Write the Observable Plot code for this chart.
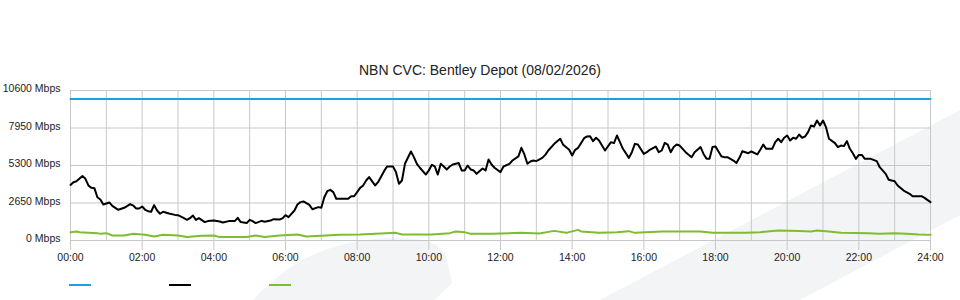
<!DOCTYPE html>
<html><head><meta charset="utf-8">
<script src="https://cdn.jsdelivr.net/npm/d3@7"></script>
<script src="https://cdn.jsdelivr.net/npm/@observablehq/plot@0.6"></script>
<style>
html,body{margin:0;padding:0;background:#fff;}
#wrap{position:relative;width:960px;height:300px;overflow:hidden;font-family:"Liberation Sans",Arial,sans-serif;}
#bg{position:absolute;left:0;top:0;z-index:0;}
#content{position:relative;z-index:1;}
#title{height:80px;box-sizing:border-box;padding-top:63px;font-size:14px;line-height:1;text-align:center;color:#222;}
#legend{position:relative;height:20px;}
.sw{position:absolute;top:4px;width:22px;height:2px;}
</style></head>
<body><div id="wrap">
<svg id="bg" width="960" height="300"><path d="M600,300 L960,110 L960,215 L800,300 Z" fill="#f3f4f6"/><path d="M253,300 C285,265 325,240 390,238 C425,237 440,243 446,256 L452,283 L435,300 Z" fill="#f3f4f6"/></svg>
<div id="content"><div id="title"></div><div id="chart"></div><div id="legend"></div></div>
</div>
<script>
const titleText = "NBN CVC: Bentley Depot (08/02/2026)";
const seriesNames = ["Capacity", "Total", "Upload"];
const seriesColors = ["#1aa1e1", "#000000", "#7dbd2e"];

const yTicks = [0, 2650, 5300, 7950, 10600];
const xTicks = [0, 120, 240, 360, 480, 600, 720, 840, 960, 1080, 1200, 1320, 1440];
const xTickLabels = ["00:00","02:00","04:00","06:00","08:00","10:00","12:00","14:00","16:00","18:00","20:00","22:00","24:00"];
const hourGrid = [0,60,120,180,240,300,360,420,480,540,600,660,720,780,840,900,960,1020,1080,1140,1200,1260,1320,1380,1440];

// Capacity (Mbps)
const capTimes = [0, 1440];
const capMbps = [10000, 10000];

// Total traffic: minutes since midnight, Mbps
const totalTimes = [0,5,10,20,25,30,35,40,45,50,55,65,70,80,90,100,105,110,115,120,125,130,135,140,145,150,155,165,175,180,190,195,200,205,210,215,225,230,240,250,255,265,275,280,285,290,295,300,305,310,320,325,335,340,350,355,360,365,375,380,385,390,395,400,405,415,420,425,430,435,440,445,450,465,470,475,485,490,495,500,510,515,525,530,540,545,550,555,560,570,575,580,585,595,600,605,610,615,620,625,630,635,640,650,655,660,665,670,675,680,690,695,700,705,710,720,725,735,740,750,755,760,765,770,775,780,790,795,800,810,820,825,835,840,845,850,860,865,870,875,880,885,895,905,910,915,920,925,935,940,945,950,960,965,970,980,985,990,995,1000,1005,1010,1015,1020,1030,1040,1045,1055,1060,1065,1070,1075,1080,1090,1095,1100,1110,1115,1120,1125,1135,1140,1150,1155,1160,1165,1175,1180,1185,1190,1195,1200,1205,1210,1215,1220,1225,1230,1235,1240,1245,1250,1255,1260,1265,1270,1280,1285,1290,1295,1300,1305,1310,1315,1320,1325,1330,1340,1350,1355,1365,1370,1380,1385,1395,1405,1410,1425,1430,1440];
const totalMbps = [3930,4120,4190,4550,4360,3890,3720,3700,3060,2900,2540,2690,2450,2170,2310,2570,2470,2260,2260,2400,2170,2070,2030,2500,2120,1890,2030,1910,1810,1790,1580,1460,1580,1770,1460,1580,1300,1370,1410,1340,1270,1370,1370,1600,1300,1270,1230,1460,1370,1230,1390,1320,1410,1510,1480,1560,1790,1650,2120,2540,2710,2760,2640,2520,2210,2360,2310,3060,3490,3580,3420,2950,2950,2950,3130,3130,3720,3890,4240,4480,3890,4120,4900,5230,5230,4830,4010,4240,5420,6290,5890,5420,5140,4660,4950,5350,5230,4660,5420,5230,5020,5230,5370,5470,4950,4950,5300,5020,4950,4710,5090,4950,5720,5370,5140,4830,5230,5420,5650,5940,6550,6080,5420,5580,5650,5610,5840,6050,6360,6830,7190,6760,6410,6010,6410,6550,7230,7350,7370,7020,7260,7070,6360,6950,6880,7420,6950,6480,5840,6240,6830,6780,6120,6240,6410,6640,6240,6360,6900,6780,6240,6600,6780,6710,6240,5890,6240,6600,6120,5770,5770,6600,6640,5940,5890,5890,5650,5470,5840,6310,6170,6290,6080,6410,6780,6480,6480,6950,7190,6950,7260,7420,7070,7260,7190,7490,7260,7350,7660,8130,8060,8480,8130,8480,8010,7190,6880,6600,6710,6670,7020,6480,6170,5770,6050,6050,5770,5770,5610,5180,4710,4290,4190,3890,3530,3300,3130,3130,3010,2710];

// Upload traffic: minutes since midnight, Mbps
const upTimes = [0,10,15,45,50,60,70,90,105,125,140,155,180,195,220,240,250,295,310,325,350,380,395,420,450,485,520,545,555,605,635,645,660,670,705,720,755,785,810,830,850,855,885,915,935,945,990,1055,1075,1130,1155,1185,1220,1240,1250,1270,1290,1335,1355,1380,1400,1420,1440];
const upMbps = [590,640,590,520,470,520,350,350,470,400,280,400,350,240,330,350,240,240,350,240,350,420,280,330,400,420,500,540,420,420,520,640,590,470,470,500,540,500,680,540,750,640,540,590,660,540,640,640,540,540,590,710,680,640,710,640,540,520,470,520,470,420,400];

const cap = capTimes.map((t, i) => ({t, v: capMbps[i]}));
const total = totalTimes.map((t, i) => ({t, v: totalMbps[i]}));
const up = upTimes.map((t, i) => ({t, v: upMbps[i]}));

document.getElementById("title").textContent = titleText;

const chart = Plot.plot({
  width: 960, height: 200,
  marginTop: 10, marginBottom: 40, marginLeft: 70, marginRight: 30,
  style: {background: "transparent", fontFamily: "'Liberation Sans', Arial, sans-serif", fontSize: "10.5px", color: "#222", overflow: "visible"},
  x: {domain: [0, 1440]},
  y: {domain: [0, 10600]},
  marks: [
    Plot.gridX(hourGrid, {stroke: "#c8c8c8", strokeOpacity: 1}),
    Plot.gridY(yTicks, {stroke: "#c8c8c8", strokeOpacity: 1}),
    Plot.axisX(xTicks, {tickFormat: d => xTickLabels[xTicks.indexOf(d)], tickSize: 10, tickPadding: 3, stroke: "#c8c8c8", label: null}),
    Plot.axisY(yTicks, {tickFormat: d => d + " Mbps", tickSize: 0, tickPadding: 10, label: null, dy: -1.5}),
    Plot.line(cap, {x: "t", y: "v", stroke: seriesColors[0], strokeWidth: 2}),
    Plot.line(up, {x: "t", y: "v", stroke: seriesColors[2], strokeWidth: 2}),
    Plot.line(total, {x: "t", y: "v", stroke: seriesColors[1], strokeWidth: 2})
  ]
});
document.getElementById("chart").appendChild(chart);

const legend = document.getElementById("legend");
seriesNames.forEach((name, i) => {
  const s = document.createElement("div");
  s.className = "sw";
  s.title = name;
  s.style.left = (69 + i * 100) + "px";
  s.style.background = seriesColors[i];
  legend.appendChild(s);
});
</script>
</body></html>
